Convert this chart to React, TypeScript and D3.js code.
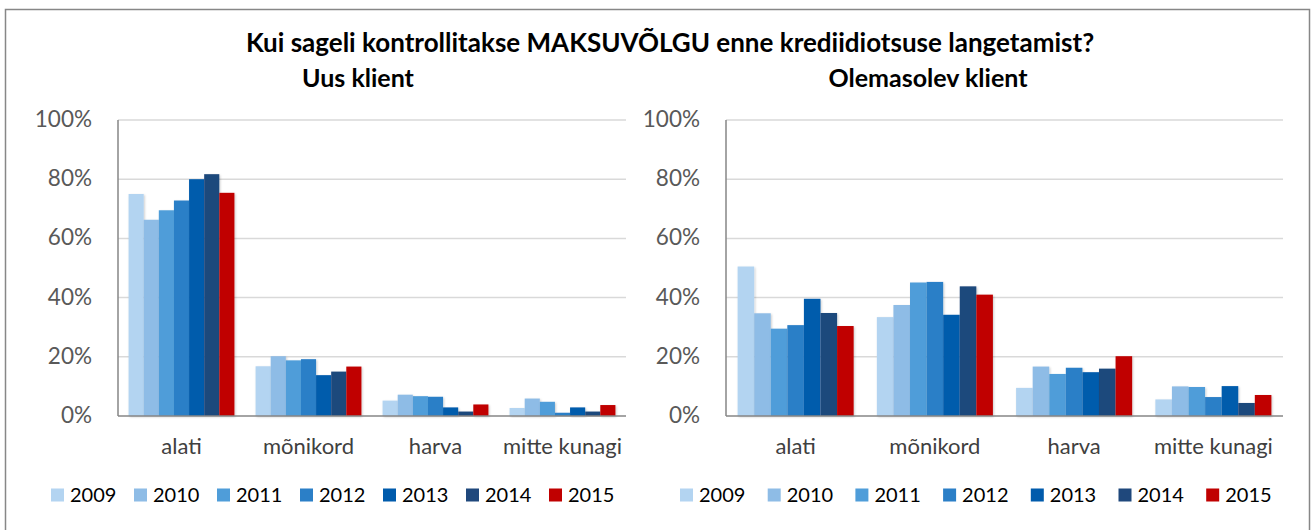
import React from "react";
import * as d3 from "d3";

// Categories, years and series colours
const categories = ["alati", "mõnikord", "harva", "mitte kunagi"];
const years = ["2009", "2010", "2011", "2012", "2013", "2014", "2015"];
const yearColors = ["#b3d4f1", "#8ebce6", "#4f9dd9", "#2b7fc7", "#005bac", "#1f487c", "#c00000"];
const yTicks = [0, 20, 40, 60, 80, 100];

// Uus klient: one row per year, values in % for alati, mõnikord, harva, mitte kunagi
const uusKlient2009 = [75.0, 16.8, 5.2, 2.7];
const uusKlient2010 = [66.3, 20.2, 7.2, 5.9];
const uusKlient2011 = [69.5, 18.8, 6.7, 4.8];
const uusKlient2012 = [72.8, 19.2, 6.5, 1.1];
const uusKlient2013 = [80.0, 13.8, 2.9, 2.9];
const uusKlient2014 = [81.7, 15.0, 1.5, 1.5];
const uusKlient2015 = [75.4, 16.7, 3.9, 3.7];

// Olemasolev klient
const olemasolev2009 = [50.5, 33.4, 9.5, 5.6];
const olemasolev2010 = [34.7, 37.5, 16.7, 10.0];
const olemasolev2011 = [29.5, 45.1, 14.2, 9.8];
const olemasolev2012 = [30.7, 45.3, 16.3, 6.4];
const olemasolev2013 = [39.6, 34.2, 14.8, 10.1];
const olemasolev2014 = [34.8, 43.8, 16.0, 4.4];
const olemasolev2015 = [30.4, 41.0, 20.2, 7.1];

const uusKlient = [uusKlient2009, uusKlient2010, uusKlient2011, uusKlient2012, uusKlient2013, uusKlient2014, uusKlient2015];
const olemasolev = [olemasolev2009, olemasolev2010, olemasolev2011, olemasolev2012, olemasolev2013, olemasolev2014, olemasolev2015];

const FONT = "Lato, 'Open Sans', sans-serif";

type PanelProps = {
  rows: number[][];
  x0: number;
  x1: number;
  labelRight: number;
  legendX: number;
  legendStep: number;
};

function Panel({ rows, x0, x1, labelRight, legendX, legendStep }: PanelProps) {
  const top = 120;
  const bottom = 416;
  const gap = 1.4; // excel-ish gap width relative to bar width

  const y = d3.scaleLinear().domain([0, 100]).range([bottom, top]);
  const x = d3.scaleBand()
    .domain(categories)
    .range([x0, x1])
    .paddingInner(gap / (7 + gap))
    .paddingOuter((gap / 2) / (7 + gap));
  const xs = d3.scaleBand().domain(years).range([0, x.bandwidth()]);

  return (
    <g>
      {/* gridlines */}
      {yTicks.filter(t => t > 0).map(t => (
        <line key={t} x1={x0} x2={x1} y1={y(t)} y2={y(t)} stroke="#d9d9d9" strokeWidth={1.5} />
      ))}
      {/* tick labels */}
      {yTicks.map(t => (
        <text key={t} x={labelRight} y={y(t) + 7} textAnchor="end"
          fontSize={22.5} fill="#595959" fontFamily={FONT}>{t + "%"}</text>
      ))}
      {/* bars */}
      {rows.map((row, i) =>
        row.map((v, j) => (
          <rect key={i + "-" + j}
            x={(x(categories[j]) as number) + (xs(years[i]) as number)}
            y={y(v)}
            width={xs.bandwidth()}
            height={bottom - y(v)}
            fill={yearColors[i]}
            filter="url(#shadow)" />
        ))
      )}
      {/* axes */}
      <line x1={x0} x2={x0} y1={top} y2={bottom} stroke="#868686" strokeWidth={1.5} />
      <line x1={x0} x2={x1} y1={bottom} y2={bottom} stroke="#868686" strokeWidth={1.5} />
      {categories.map(c => (
        <text key={c} x={(x(c) as number) + x.bandwidth() / 2} y={454}
          textAnchor="middle" fontSize={22} fill="#404040" fontFamily={FONT}>{c}</text>
      ))}
      {/* legend */}
      {years.map((yr, i) => (
        <g key={yr} transform={`translate(${legendX + i * legendStep},495)`}>
          <rect x={0} y={-6.5} width={13} height={13} fill={yearColors[i]} />
          <text x={19} y={7} fontSize={20} fill="#000" fontFamily={FONT}>{yr}</text>
        </g>
      ))}
    </g>
  );
}

export default function App() {
  return (
    <svg width={1314} height={530} style={{ position: "absolute", left: 0, top: 0, background: "#fff" }}>
      <defs>
        <filter id="shadow" x="-20%" y="-20%" width="140%" height="140%">
          <feDropShadow dx={1} dy={1} stdDeviation={1} floodColor="#000" floodOpacity={0.2} />
        </filter>
      </defs>
      <rect x={0} y={0} width={1314} height={530} fill="#fff" />
      <rect x={5.5} y={9.5} width={1304} height={530} fill="none" stroke="#878787" strokeWidth={1.5} />
      <text x={670} y={52} textAnchor="middle" fontSize={26} fontWeight="bold"
        fill="#000" fontFamily={FONT}>Kui sageli kontrollitakse MAKSUVÕLGU enne krediidiotsuse langetamist?</text>
      <text x={358} y={87} textAnchor="middle" fontSize={25} fontWeight="bold"
        fill="#000" fontFamily={FONT}>Uus klient</text>
      <text x={928} y={87} textAnchor="middle" fontSize={25} fontWeight="bold"
        fill="#000" fontFamily={FONT}>Olemasolev klient</text>
      <Panel rows={uusKlient} x0={118} x1={626} labelRight={92} legendX={51} legendStep={83} />
      <Panel rows={olemasolev} x0={726} x1={1283} labelRight={700} legendX={680} legendStep={87.7} />
    </svg>
  );
}
